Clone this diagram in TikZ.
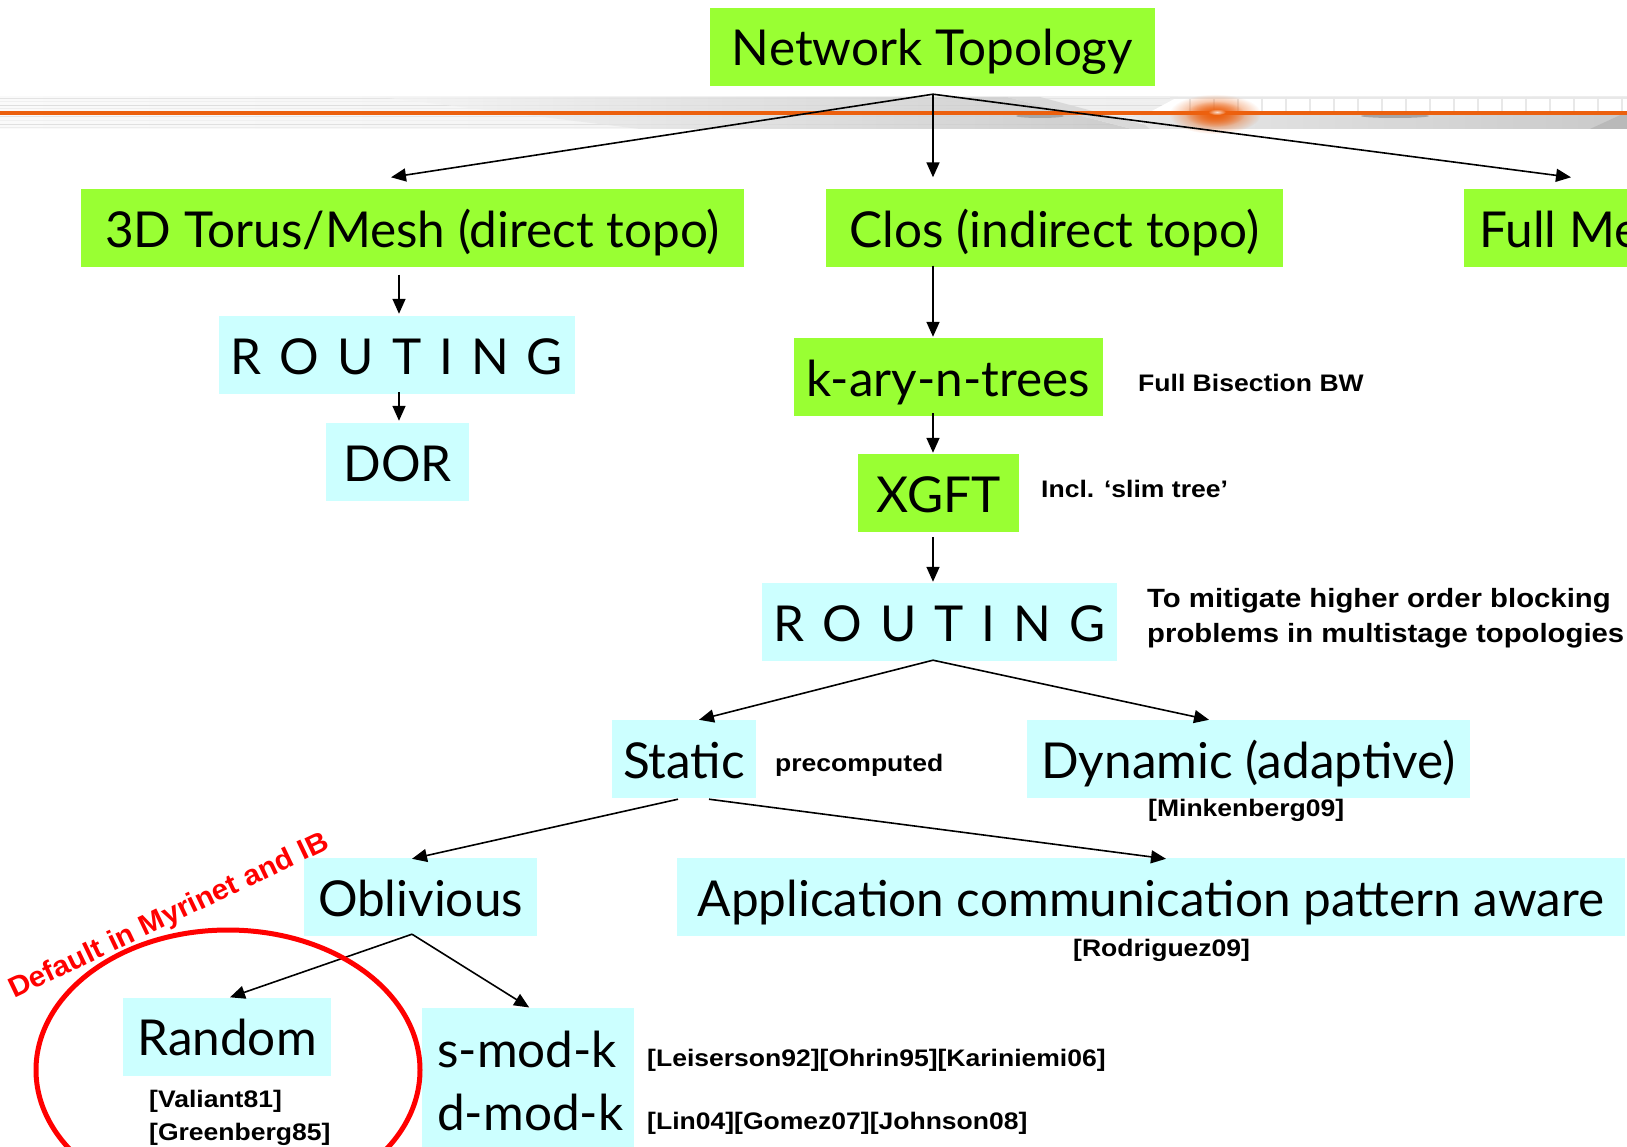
\documentclass[tikz,border=0pt]{standalone}
\usepackage{fontspec}
\usetikzlibrary{arrows.meta,calc,fadings}
\setmainfont{Lato}
\newfontfamily\boxfont{Lato}
\newfontfamily\notefont[FakeStretch=1.11]{Liberation Sans}
\newfontfamily\redfont[FakeStretch=1.05]{Liberation Sans}
\definecolor{lime}{RGB}{153,255,51}
\definecolor{pale}{RGB}{204,255,255}
\definecolor{bannerorange}{RGB}{236,96,14}
\tikzfading[name=glow, inner color=transparent!0, outer color=transparent!100]
\newdimen\trk \trk=18pt
\newcommand\tracked{R\kern\trk O\kern\trk U\kern\trk T\kern\trk I\kern\trk N\kern\trk G}
\tikzset{
  box/.style={inner xsep=0pt, inner ysep=0pt, text height=58pt, text depth=20pt,
    font=\boxfont\fontsize{49.5}{58}\selectfont},
  greenbox/.style={box, fill=lime},
  cyanbox/.style={box, fill=pale},
  arr/.style={line width=1.6pt, -{Triangle[length=15pt,width=13pt]}},
  note/.style={font=\notefont\bfseries\fontsize{23.9}{31.5}\selectfont,
    anchor=base west, inner sep=0pt},
  linetext/.style={font=\boxfont\fontsize{49.5}{58}\selectfont, anchor=base west, inner sep=0pt},
}
\begin{document}
\begin{tikzpicture}[x=1pt,y=-1pt]
\useasboundingbox (0,0) rectangle (1627,1147);
\clip (0,0) rectangle (1627,1147);
\fill[white] (0,0) rectangle (1627,1147);

% decorative banner under the title
\shade[left color=gray!4, right color=gray!16] (0,97) rectangle (1627,129);
\foreach \yy/\c in {99/22,102/12,106/26,109/14,117/20,121/12,125/24,128/14}
  \draw[gray!\c, line width=1pt] (0,\yy) -- (1627,\yy);
\shade[left color=gray!8, right color=gray!50, opacity=0.7]
  (380,97) -- (1007,97) -- (1132,129) -- (640,129) -- cycle;
\fill[gray!30] (1007,97) -- (1040,97) -- (1160,129) -- (1132,129) -- cycle;
\fill[white] (1178,97) -- (1627,97) -- (1627,112) -- (1150,112) -- cycle;
\foreach \gx in {1190,1214,...,1627}
  \draw[gray!18, line width=1.2pt] (\gx,97) -- (\gx,112);
\draw[gray!18, line width=1.2pt] (1170,98) -- (1627,98);
\shade[left color=gray!18, right color=gray!42]
  (1132,114) -- (1627,114) -- (1627,129) -- (1150,129) -- cycle;
\fill[gray!55] (1590,129) -- (1627,112) -- (1627,129) -- cycle;
\fill[gray!70] (1040,116) ellipse (24 and 2);
\fill[gray!70] (1395,116) ellipse (34 and 2);
\draw[bannerorange, line width=4pt] (0,113) -- (1627,113);
\fill[bannerorange, path fading=glow] (1215,114) ellipse (46 and 20);
\fill[bannerorange, path fading=glow] (1215,114) ellipse (30 and 13);
\fill[white, opacity=0.8, path fading=glow] (1217,112) ellipse (9 and 3);

% boxes
\node[greenbox, minimum width=445pt] (top) at (932.5,47) {Network Topology};
\node[greenbox, minimum width=663pt] (torus) at (412.5,228.5) {3D Torus/Mesh (direct topo)};
\node[greenbox, minimum width=457pt] (clos) at (1054.5,228.5) {Clos (indirect topo)};
\node[greenbox, anchor=west, inner xsep=15pt] (mesh) at (1464,228.5) {Full Mesh};
\node[cyanbox, minimum width=356pt] (routeA) at (397,355) {\tracked};
\node[cyanbox, minimum width=143pt] (dor) at (397.5,462) {DOR};
\node[greenbox, minimum width=309pt] (kary) at (948.5,377) {k-ary-n-trees};
\node[greenbox, minimum width=161pt] (xgft) at (938.5,493) {XGFT};
\node[cyanbox, minimum width=355pt] (routeB) at (939.5,622) {\tracked};
\node[cyanbox, minimum width=144pt] (static) at (684,759) {Static};
\node[cyanbox, minimum width=443pt] (dyn) at (1248.5,759) {Dynamic (adaptive)};
\node[cyanbox, minimum width=233pt] (obl) at (420.5,897) {Oblivious};
\node[cyanbox, minimum width=948pt] (app) at (1151,897) {Application communication pattern aware};
\node[cyanbox, minimum width=208pt] (rand) at (227,1036.5) {Random};
\node[fill=pale, inner sep=0pt, minimum width=212pt, minimum height=160pt, anchor=north west]
  (mods) at (422,1007.5) {};
\node[linetext] (smod) at (437,1067) {s-mod-k};
\node[linetext] (dmod) at (437,1130) {d-mod-k};

% side notes
\node[note] (bis) at (1138,391) {Full Bisection BW};
\node[note] (slim) at (1041,497.5) {Incl. ‘slim tree’};
\node[note, font=\notefont\bfseries\fontsize{26.4}{35}\selectfont, align=left] (mitig) at (1147,642)
  {To mitigate higher order blocking\\problems in multistage topologies};
\node[note] (pre) at (775,771) {precomputed};
\node[note] (mink) at (1148,816) {[Minkenberg09]};
\node[note] (rodr) at (1073,956) {[Rodriguez09]};
\node[note] (leis) at (647,1066) {[Leiserson92][Ohrin95][Kariniemi06]};
\node[note] (lin) at (647,1129) {[Lin04][Gomez07][Johnson08]};
\node[note] (val) at (149,1107) {[Valiant81]};
\node[note] (green) at (149,1140) {[Greenberg85]};

% connectors
\coordinate (fork) at ($(top.south)+(0.5,8)$);
\coordinate (closTip) at ($(clos.north)+(0,-12)$);
\draw[arr] (fork) -- ($(torus.north)+(-21.5,-12)$);
\draw[arr] (fork) -- (fork |- closTip);
\draw[arr] (fork) -- ($(mesh.north west)+(107,-12)$);
\draw[arr] ($(routeA.north |- torus.south)+(2,7)$) -- ($(routeA.north)+(2,-2)$);
\draw[arr] ($(routeA.south)+(2,-2)$) -- ($(dor.north)+(1.5,-2)$);
\draw[arr] ($(fork |- clos.south)+(0,-2)$) -- ($(fork |- kary.north)+(0,-1)$);
\draw[arr] ($(fork |- kary.south)+(0,-3)$) -- ($(fork |- xgft.north)+(0,-1)$);
\draw[arr] ($(fork |- xgft.south)+(0,5)$) -- ($(fork |- routeB.north)+(0,-1)$);
\coordinate (forkB) at ($(fork |- routeB.south)+(0,-1)$);
\draw[arr] (forkB) -- ($(static.north)+(15,0)$);
\draw[arr] (forkB) -- ($(dyn.north)+(-39.5,0)$);
\draw[arr] ($(static.south)+(-6,1)$) -- ($(obl.north)+(-8.5,1)$);
\draw[arr] ($(static.south)+(25,1)$) -- ($(app.north)+(15,1)$);
\coordinate (forkC) at ($(obl.south)+(-8.5,-2)$);
\draw[arr] (forkC) -- ($(rand.north)+(3,0)$);
\draw[arr] (forkC) -- ($(mods.north)+(1,0)$);

% highlight of the default scheme
\draw[red, line width=5pt] (228,1070) ellipse (192 and 140);
\node[font=\redfont\bfseries\fontsize{28.5}{30}\selectfont, text=red, rotate=25.5,
  anchor=base west, inner sep=0pt] (deflt) at (14,999) {Default in Myrinet and IB};
\end{tikzpicture}
\end{document}
